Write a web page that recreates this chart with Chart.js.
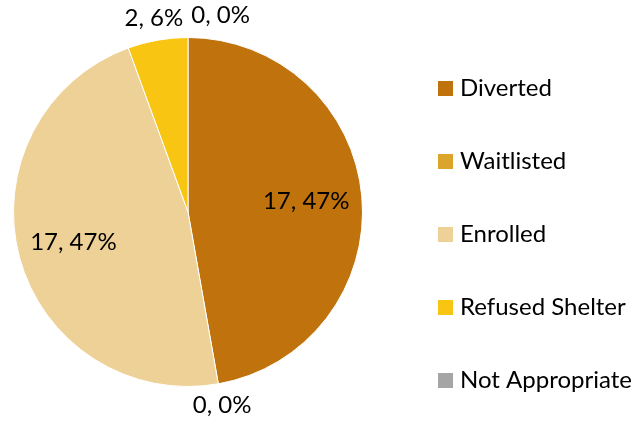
<!DOCTYPE html>
<html>
<head>
<meta charset="utf-8">
<script src="https://cdn.jsdelivr.net/npm/chart.js@4"></script>
<style>
  html, body { margin: 0; padding: 0; background: #fff; }
  #wrap { width: 638px; height: 422px; }
</style>
</head>
<body>
<div id="wrap"><canvas id="pieCanvas" width="638" height="422"></canvas></div>
<script>
// chart data
const categories = ['Diverted', 'Waitlisted', 'Enrolled', 'Refused Shelter', 'Not Appropriate'];
const counts = [17, 0, 17, 2, 0];
const sliceColors = ['#C0720C', '#DAA52A', '#EDD196', '#F8C512', '#A5A5A5'];

const FONT = '"Lato", "Open Sans", sans-serif';
const FONT_SIZE = 24;
const total = counts.reduce((a, b) => a + b, 0);

function labelText(i) {
  return counts[i] + ', ' + Math.round(counts[i] / total * 100) + '%';
}

// draws data labels on / around the slices
const sliceLabels = {
  id: 'sliceLabels',
  afterDatasetsDraw(chart) {
    const ctx = chart.ctx;
    const meta = chart.getDatasetMeta(0);
    ctx.save();
    ctx.font = FONT_SIZE + 'px ' + FONT;
    ctx.fillStyle = '#000';
    ctx.textBaseline = 'middle';
    ctx.textAlign = 'center';
    const outside = [];
    meta.data.forEach((arc, i) => {
      const mid = (arc.startAngle + arc.endAngle) / 2;
      const share = counts[i] / total;
      if (share > 0.2) {
        const r = arc.outerRadius * 0.68;
        ctx.fillText(labelText(i), arc.x + Math.cos(mid) * r, arc.y + Math.sin(mid) * r);
      } else {
        const r = arc.outerRadius + 22;
        outside.push({ i, x: arc.x + Math.cos(mid) * r, y: arc.y + Math.sin(mid) * r });
      }
    });
    // simple overlap fix: go left to right, push a label right if it runs into the previous one
    outside.sort((a, b) => a.x - b.x);
    const placed = [];
    outside.forEach(o => {
      const txt = labelText(o.i);
      const w = ctx.measureText(txt).width;
      let left = o.x - w / 2;
      placed.forEach(p => {
        if (Math.abs(p.y - o.y) < 24 && left < p.right + 8) left = p.right + 8;
      });
      ctx.textAlign = 'left';
      ctx.fillText(txt, left, o.y);
      placed.push({ y: o.y, right: left + w });
    });
    ctx.restore();
  }
};

// legend on the right, drawn by hand so spacing can match
const sideLegend = {
  id: 'sideLegend',
  afterDraw(chart) {
    const ctx = chart.ctx;
    ctx.save();
    ctx.font = FONT_SIZE + 'px ' + FONT;
    ctx.textBaseline = 'middle';
    ctx.textAlign = 'left';
    categories.forEach((name, i) => {
      const cy = 88.5 + i * 73;
      ctx.fillStyle = sliceColors[i];
      ctx.fillRect(438, cy - 7.5, 15, 15);
      ctx.fillStyle = '#000';
      ctx.fillText(name, 460, cy);
    });
    ctx.restore();
  }
};

new Chart(document.getElementById('pieCanvas'), {
  type: 'pie',
  data: {
    labels: categories,
    datasets: [{
      data: counts,
      backgroundColor: sliceColors,
      borderColor: '#ffffff',
      borderWidth: 1
    }]
  },
  options: {
    responsive: false,
    animation: false,
    layout: { padding: { left: 13, top: 37, right: 275, bottom: 35 } },
    plugins: {
      legend: { display: false },
      tooltip: { enabled: false }
    }
  },
  plugins: [sliceLabels, sideLegend]
});
</script>
</body>
</html>
